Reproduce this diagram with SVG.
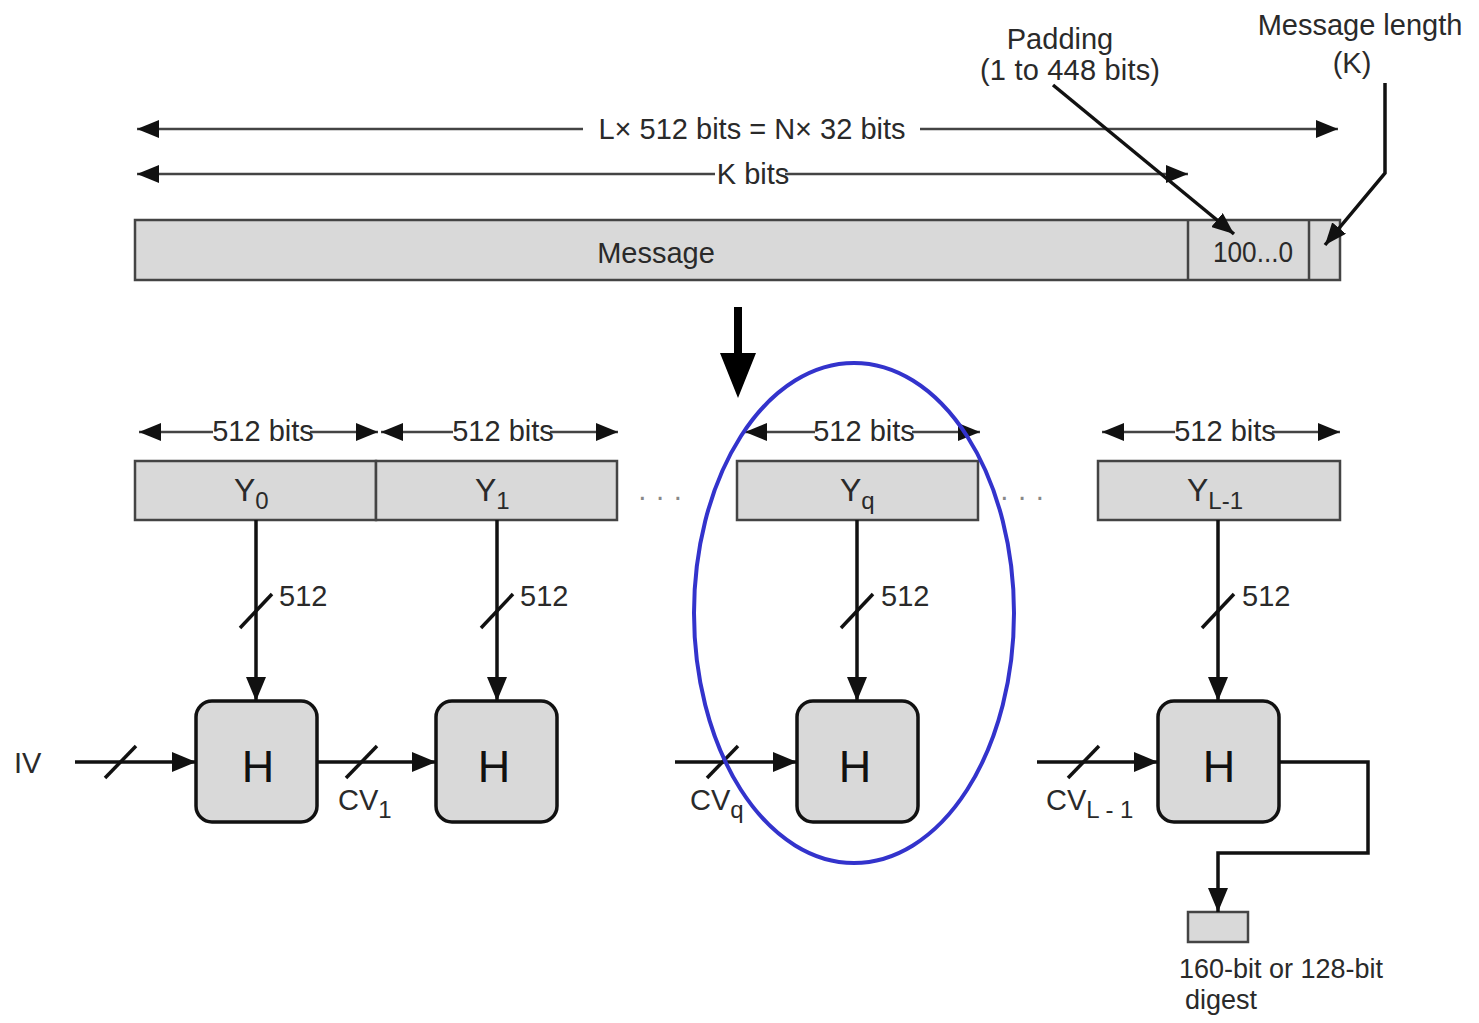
<svg xmlns="http://www.w3.org/2000/svg" width="1479" height="1023" viewBox="0 0 1479 1023">
<style>
text{font-family:"Liberation Sans",Arial,sans-serif;fill:#2a2a2a}
.t{font-size:29px}
.d{font-size:27px}
.y{font-size:32px}
.h{font-size:45px;fill:#111}
.sub{font-size:24px}
.thin{stroke:#444;stroke-width:2.5;fill:none}
.thick{stroke:#111;stroke-width:3.5;fill:none}
.bar{fill:#d9d9d9;stroke:#444;stroke-width:2.5}
.hb{fill:#d9d9d9;stroke:#111;stroke-width:3.5}
.dots{fill:#888}
</style>
<defs>
<marker id="b" viewBox="0 0 22 18" refX="22" refY="9" markerWidth="22" markerHeight="18" markerUnits="userSpaceOnUse" orient="auto-start-reverse">
<path d="M0,0 L22,9 L0,18 z" fill="#111"/>
</marker>
<marker id="c" viewBox="0 0 24 20" refX="24" refY="10" markerWidth="24" markerHeight="20" markerUnits="userSpaceOnUse" orient="auto-start-reverse">
<path d="M0,0 L24,10 L0,20 z" fill="#111"/>
</marker>
</defs>

<g id="message">
<rect class="bar" x="135" y="220" width="1205" height="60"/>
<line class="thin" x1="1188" y1="220" x2="1188" y2="280"/>
<line class="thin" x1="1309" y1="220" x2="1309" y2="280"/>
<text class="t" x="656" y="263" text-anchor="middle">Message</text>
<text class="t" x="1253" y="262" text-anchor="middle" textLength="80" lengthAdjust="spacingAndGlyphs">100...0</text>
</g>

<g id="block-y0">
<rect class="bar" x="135" y="461" width="241" height="59"/>
<text class="y" x="234" y="501">Y<tspan class="sub" dy="8">0</tspan></text>
</g>
<g id="block-y1">
<rect class="bar" x="376" y="461" width="241" height="59"/>
<text class="y" x="475" y="501">Y<tspan class="sub" dy="8">1</tspan></text>
</g>
<g id="block-yq">
<rect class="bar" x="737" y="461" width="241" height="59"/>
<text class="y" x="840" y="501">Y<tspan class="sub" dy="8">q</tspan></text>
</g>
<g id="block-yl1">
<rect class="bar" x="1098" y="461" width="242" height="59"/>
<text class="y" x="1187" y="501">Y<tspan class="sub" dy="8">L-1</tspan></text>
</g>

<g id="h1"><rect class="hb" x="196" y="701" width="121" height="121" rx="16"/><text class="h" x="258" y="782" text-anchor="middle">H</text></g>
<g id="h2"><rect class="hb" x="436" y="701" width="121" height="121" rx="16"/><text class="h" x="494" y="782" text-anchor="middle">H</text></g>
<g id="hq"><rect class="hb" x="797" y="701" width="121" height="121" rx="16"/><text class="h" x="855" y="782" text-anchor="middle">H</text></g>
<g id="hl"><rect class="hb" x="1158" y="701" width="121" height="121" rx="16"/><text class="h" x="1219" y="782" text-anchor="middle">H</text></g>

<g id="digest">
<rect class="bar" x="1188" y="912" width="60" height="30"/>
<text class="d" x="1179" y="978">160-bit or 128-bit</text>
<text class="d" x="1185" y="1009">digest</text>
</g>

<g id="connectors">
<line class="thin" x1="583" y1="129" x2="137" y2="129" marker-end="url(#b)"/>
<line class="thin" x1="920" y1="129" x2="1338" y2="129" marker-end="url(#b)"/>
<line class="thin" x1="715" y1="174" x2="137" y2="174" marker-end="url(#b)"/>
<line class="thin" x1="785" y1="174" x2="1188" y2="174" marker-end="url(#b)"/>
<line class="thick" x1="1053" y1="85" x2="1234" y2="234" marker-end="url(#b)"/>
<polyline class="thick" points="1385,83 1385,173 1325,245" marker-end="url(#b)"/>
<path d="M734,307 H742 V353 H756 L738,398 L720,353 H734 Z" fill="#000"/>
<line class="thin" x1="213" y1="432" x2="139" y2="432" marker-end="url(#b)"/>
<line class="thin" x1="310" y1="432" x2="378" y2="432" marker-end="url(#b)"/>
<line class="thin" x1="453" y1="432" x2="381" y2="432" marker-end="url(#b)"/>
<line class="thin" x1="550" y1="432" x2="618" y2="432" marker-end="url(#b)"/>
<line class="thin" x1="815" y1="432" x2="745" y2="432" marker-end="url(#b)"/>
<line class="thin" x1="912" y1="432" x2="980" y2="432" marker-end="url(#b)"/>
<line class="thin" x1="1175" y1="432" x2="1102" y2="432" marker-end="url(#b)"/>
<line class="thin" x1="1272" y1="432" x2="1340" y2="432" marker-end="url(#b)"/>
<line class="thick" x1="256" y1="520" x2="256" y2="701" marker-end="url(#c)"/>
<line class="thick" x1="497" y1="520" x2="497" y2="701" marker-end="url(#c)"/>
<line class="thick" x1="857" y1="520" x2="857" y2="701" marker-end="url(#c)"/>
<line class="thick" x1="1218" y1="520" x2="1218" y2="701" marker-end="url(#c)"/>
<line class="thick" x1="240" y1="628" x2="272" y2="594"/>
<line class="thick" x1="481" y1="628" x2="513" y2="594"/>
<line class="thick" x1="841" y1="628" x2="873" y2="594"/>
<line class="thick" x1="1202" y1="628" x2="1234" y2="594"/>
<line class="thick" x1="75" y1="762" x2="196" y2="762" marker-end="url(#c)"/>
<line class="thick" x1="317" y1="762" x2="436" y2="762" marker-end="url(#c)"/>
<line class="thick" x1="675" y1="762" x2="797" y2="762" marker-end="url(#c)"/>
<line class="thick" x1="1037" y1="762" x2="1158" y2="762" marker-end="url(#c)"/>
<line class="thick" x1="105" y1="778" x2="136" y2="746"/>
<line class="thick" x1="346" y1="778" x2="377" y2="746"/>
<line class="thick" x1="707" y1="778" x2="738" y2="746"/>
<line class="thick" x1="1068" y1="778" x2="1099" y2="746"/>
<polyline class="thick" points="1279,762 1368,762 1368,853 1218,853 1218,912" marker-end="url(#c)"/>
</g>

<g id="labels">
<text class="t" x="752" y="139" text-anchor="middle">L× 512 bits = N× 32 bits</text>
<text class="t" x="753" y="184" text-anchor="middle">K bits</text>
<text class="t" x="1060" y="49" text-anchor="middle">Padding</text>
<text class="t" x="1070" y="80" text-anchor="middle" textLength="180" lengthAdjust="spacing">(1 to 448 bits)</text>
<text class="t" x="1360" y="35" text-anchor="middle">Message length</text>
<text class="t" x="1352" y="73" text-anchor="middle">(K)</text>
<text class="t" x="263" y="441" text-anchor="middle">512 bits</text>
<text class="t" x="503" y="441" text-anchor="middle">512 bits</text>
<text class="t" x="864" y="441" text-anchor="middle">512 bits</text>
<text class="t" x="1225" y="441" text-anchor="middle">512 bits</text>
<text class="t dots" x="660" y="506" text-anchor="middle">· · ·</text>
<text class="t dots" x="1022" y="506" text-anchor="middle">· · ·</text>
<text class="t" x="279" y="606">512</text>
<text class="t" x="520" y="606">512</text>
<text class="t" x="881" y="606">512</text>
<text class="t" x="1242" y="606">512</text>
<text class="t" x="14" y="773">IV</text>
<text class="t" x="338" y="810">CV<tspan class="sub" dy="8">1</tspan></text>
<text class="t" x="690" y="810">CV<tspan class="sub" dy="8">q</tspan></text>
<text class="t" x="1046" y="810">CV<tspan class="sub" dy="8">L - 1</tspan></text>
</g>

<ellipse id="highlight" cx="854" cy="613" rx="160" ry="250" fill="none" stroke="#3333cc" stroke-width="4"/>
</svg>
